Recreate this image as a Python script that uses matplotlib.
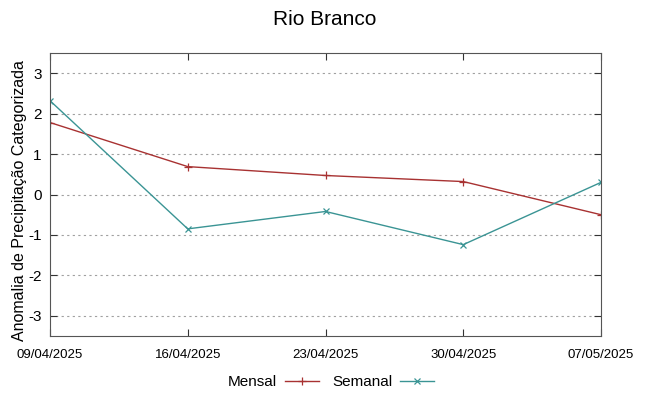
import matplotlib
matplotlib.use('Agg')
import matplotlib.pyplot as plt

plt.rcParams['font.family'] = ['Liberation Sans', 'DejaVu Sans']

datas = ['09/04/2025', '16/04/2025', '23/04/2025', '30/04/2025', '07/05/2025']
mensal = [1.78, 0.69, 0.47, 0.32, -0.50]
semanal = [2.32, -0.85, -0.42, -1.24, 0.30]
yticks = [-3, -2, -1, 0, 1, 2, 3]

fig = plt.figure(figsize=(6.49, 3.96), dpi=100)
ax = fig.add_axes([50/649, 60/396, 551/649, 283/396])

x = list(range(len(datas)))
ax.plot(x, mensal, color='#a83232', lw=1.0, marker='+', ms=6, mew=0.9, label='Mensal')
ax.plot(x, semanal, color='#3a9494', lw=1.0, marker='x', ms=5, mew=0.9, label='Semanal')

ax.set_xlim(0, 4)
ax.set_ylim(-3.5, 3.5)
ax.set_xticks(x)
ax.set_xticklabels(datas, fontsize=9.5)
ax.set_yticks(yticks)
ax.set_yticklabels([str(v) for v in yticks], fontsize=11)
ax.tick_params(direction='in', top=True, right=True, length=5, color='#333333', pad=9)
ax.tick_params(axis='y', pad=6)
ax.yaxis.grid(True, ls=(0, (2, 3)), color='#a0a0a0', lw=0.8)
for s in ax.spines.values():
    s.set_color('#555555')

ax.set_ylabel('Anomalia de Precipitação Categorizada', fontsize=11.5)
ax.yaxis.set_label_coords(-0.042, 0.48)
fig.suptitle('Rio Branco', fontsize=15, y=0.975)

fig.legend(loc='center', bbox_to_anchor=(0.51, 1 - 382/396), ncol=2, frameon=False,
           markerfirst=False, handlelength=2.2, columnspacing=0.9, handletextpad=0.5,
           fontsize=11)

fig.savefig('out.png', dpi=100)
